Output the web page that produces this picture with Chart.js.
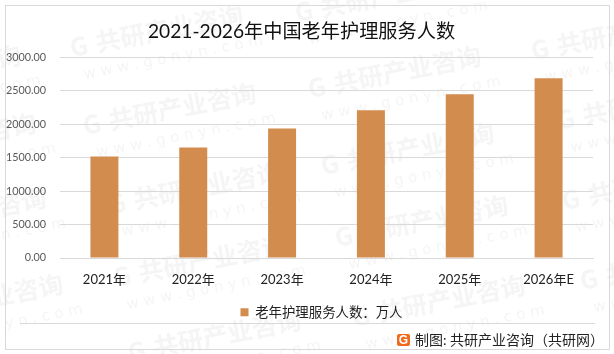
<!DOCTYPE html>
<html lang="zh-CN">
<head>
    <meta charset="UTF-8">
    <title>2021-2026年中国老年护理服务人数</title>
    <script src="https://cdn.jsdelivr.net/npm/chart.js"></script>
    <style>
        html, body { margin: 0; padding: 0; background: #fff; }
        #wrap { width: 614px; height: 354px; }
    </style>
</head>
<body>
    <div id="wrap"><canvas id="chart"></canvas></div>
    <script>
        const categories = ['2021年', '2022年', '2023年', '2024年', '2025年', '2026年E'];
        const serviceCounts = [1515, 1650, 1935, 2205, 2445, 2685];
        const seriesName = '老年护理服务人数：万人';
        const chartTitle = '2021-2026年中国老年护理服务人数';
        const footerText = '制图: 共研产业咨询（共研网）';
        const fontFamily = 'Lato, "Noto Sans CJK SC", sans-serif';

        // where each background watermark starts
        const watermarks = [
            [72, 57], [85, 135], [310, 98], [533, 60], [323, 175], [559, 130],
            [110, 214], [-125, 240], [-108, 326], [115, 287], [130, 362],
            [337, 247], [354, 327], [564, 210], [582, 290], [297, 22],
            [-150, 97], [-135, 165]
        ];

        // page frame, watermark and footer are not part of the chart itself
        const backdrop = {
            id: 'backdrop',
            afterLayout(chart) {
                // legend and title sit right of centre in the original
                chart.legend.left += 25;
                chart.legend.right += 25;
                chart.titleBlock.left += 5;
                chart.titleBlock.right += 5;
            },
            beforeDraw(chart) {
                const ctx = chart.ctx;
                ctx.save();
                ctx.fillStyle = '#fff';
                ctx.fillRect(0, 0, 614, 354);
                ctx.fillStyle = '#f5f5f5';
                watermarks.forEach(([x, y]) => {
                    ctx.save();
                    ctx.translate(x, y);
                    ctx.rotate(-11 * Math.PI / 180);
                    ctx.textBaseline = 'alphabetic';
                    ctx.font = 'bold 25px "Noto Sans CJK SC"';
                    ctx.fillText('G', 0, 0);
                    ctx.fillText('共研产业咨询', 26, 0);
                    ctx.font = '15px "DejaVu Sans"';
                    ctx.fillText('w w w . g o n y n . c o m', 8, 24);
                    ctx.restore();
                });
                ctx.strokeStyle = '#d9d9d9';
                ctx.lineWidth = 1;
                ctx.strokeRect(5.5, 5.5, 604, 344);
                ctx.beginPath();
                ctx.moveTo(20, 323.5);
                ctx.lineTo(595, 323.5);
                ctx.stroke();
                ctx.restore();
            },
            afterDraw(chart) {
                const ctx = chart.ctx;
                ctx.save();
                ctx.fillStyle = '#ef6a1f';
                ctx.beginPath();
                ctx.roundRect(397, 334, 13, 12, 2);
                ctx.fill();
                ctx.fillStyle = '#fff';
                ctx.font = 'bold 12px "Liberation Sans"';
                ctx.textAlign = 'center';
                ctx.textBaseline = 'middle';
                ctx.fillText('G', 403.5, 340.5);
                ctx.fillStyle = '#222';
                ctx.font = '14px ' + fontFamily;
                ctx.textAlign = 'left';
                ctx.fillText(footerText, 415, 340);
                ctx.restore();
            }
        };

        new Chart(document.getElementById('chart'), {
            type: 'bar',
            plugins: [backdrop],
            data: {
                labels: categories,
                datasets: [{
                    label: seriesName,
                    data: serviceCounts,
                    backgroundColor: '#d28c4e',
                    categoryPercentage: 1,
                    barPercentage: 0.315
                }]
            },
            options: {
                responsive: true,
                maintainAspectRatio: false,
                animation: false,
                layout: { padding: { left: 0, right: 21, top: 20, bottom: 25 } },
                plugins: {
                    title: {
                        display: true,
                        text: chartTitle,
                        color: '#111',
                        font: { family: fontFamily, size: 19.2, weight: 'normal' },
                        padding: { top: 0, bottom: 14 }
                    },
                    legend: {
                        position: 'bottom',
                        labels: {
                            boxWidth: 8,
                            boxHeight: 8,
                            color: '#222',
                            padding: 5,
                            font: { family: fontFamily, size: 13.4 }
                        }
                    },
                    tooltip: { enabled: false }
                },
                scales: {
                    x: {
                        afterFit(scale) { scale.height += 7; },
                        grid: { display: false },
                        border: { color: '#d9d9d9' },
                        ticks: { color: '#222', padding: 6, maxRotation: 0, font: { family: fontFamily, size: 13 } }
                    },
                    y: {
                        min: 0,
                        max: 3000,
                        afterFit(scale) { scale.width = 60; },
                        grid: { color: '#d9d9d9', drawTicks: false },
                        border: { display: false },
                        ticks: {
                            stepSize: 500,
                            color: '#595959',
                            padding: 14,
                            callback: v => v.toFixed(2),
                            font: { family: fontFamily, size: 10.8 }
                        }
                    }
                }
            }
        });
    </script>
</body>
</html>
